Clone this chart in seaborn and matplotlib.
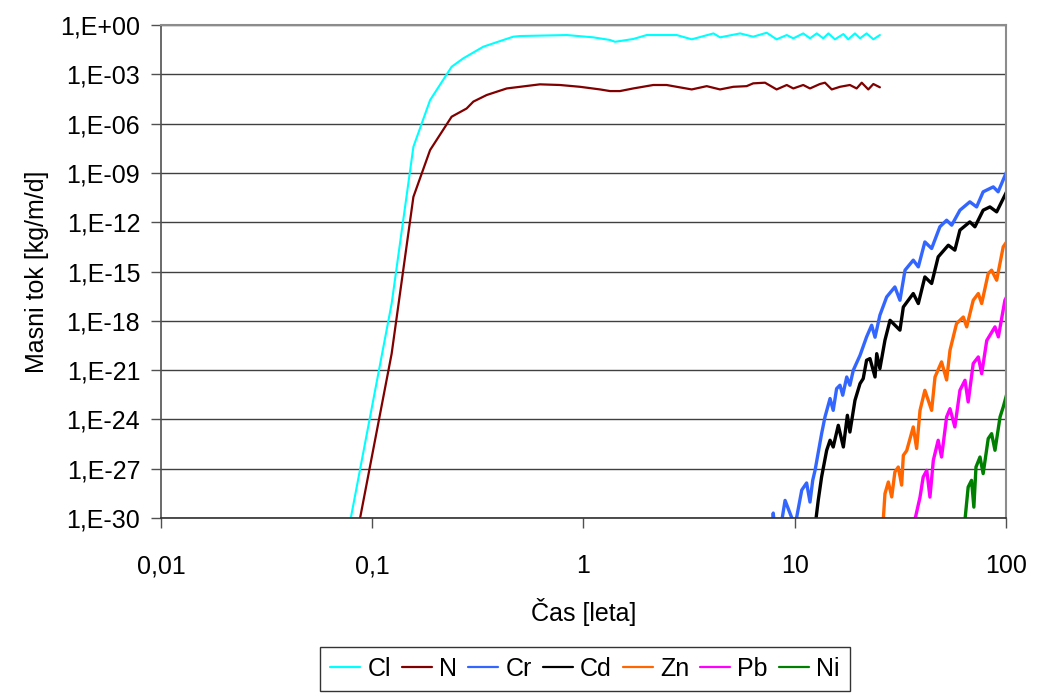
import numpy as np
import pandas as pd
import seaborn as sns
import matplotlib
matplotlib.use("Agg")
import matplotlib.pyplot as plt
from matplotlib.ticker import FixedLocator, NullLocator

sns.set_style("white")
plt.rcParams["font.family"] = ["Liberation Sans", "DejaVu Sans"]
plt.rcParams["text.color"] = "black"
plt.rcParams["axes.labelcolor"] = "black"
plt.rcParams["xtick.color"] = "black"
plt.rcParams["ytick.color"] = "black"

# values, as log10(time [leta]) and log10(flux [kg/m/d])
cl_lt = [-1.102, -0.908, -0.805, -0.726, -0.624, -0.569, -0.474, -0.379, -0.332, -0.300,
         -0.079, 0.047, 0.126, 0.150, 0.236, 0.300, 0.442, 0.513, 0.616, 0.647,
         0.742, 0.804, 0.868, 0.915, 0.963, 0.994, 1.041, 1.073, 1.105, 1.136,
         1.160, 1.191, 1.231, 1.254, 1.286, 1.310, 1.341, 1.373, 1.404]
cl_lq = [-30.04, -16.95, -7.41, -4.57, -2.54, -2.03, -1.32, -0.91, -0.71, -0.67,
         -0.61, -0.75, -0.91, -1.02, -0.85, -0.61, -0.61, -0.87, -0.51, -0.75,
         -0.51, -0.71, -0.47, -0.87, -0.61, -0.81, -0.51, -0.81, -0.51, -0.81,
         -0.51, -0.87, -0.55, -0.87, -0.51, -0.81, -0.51, -0.87, -0.61]

n_lt = [-1.058, -0.908, -0.805, -0.726, -0.624, -0.553, -0.521, -0.458, -0.363, -0.300,
        -0.206, -0.111, -0.016, 0.079, 0.126, 0.173, 0.236, 0.331, 0.394, 0.442,
        0.513, 0.584, 0.647, 0.710, 0.773, 0.804, 0.860, 0.915, 0.963, 0.994,
        1.041, 1.073, 1.120, 1.144, 1.176, 1.215, 1.262, 1.294, 1.318, 1.349,
        1.373, 1.404]
n_lq = [-30.04, -20.0, -10.46, -7.61, -5.58, -5.08, -4.66, -4.26, -3.86, -3.76,
        -3.61, -3.65, -3.76, -3.92, -4.02, -4.02, -3.86, -3.65, -3.65, -3.76,
        -3.92, -3.72, -3.92, -3.76, -3.72, -3.55, -3.51, -3.92, -3.65, -3.86,
        -3.65, -3.86, -3.59, -3.51, -3.92, -3.76, -3.65, -3.86, -3.51, -3.92,
        -3.59, -3.79]

cr_lt = [0.895, 0.899, 0.905, 0.939, 0.955, 0.975, 1.002, 1.034, 1.057, 1.073,
         1.086, 1.097, 1.128, 1.144, 1.168, 1.183, 1.199, 1.215, 1.228, 1.247,
         1.262, 1.278, 1.310, 1.341, 1.365, 1.381, 1.404, 1.436, 1.475, 1.499,
         1.523, 1.562, 1.586, 1.617, 1.649, 1.688, 1.720, 1.744, 1.783, 1.830,
         1.862, 1.893, 1.941, 1.964, 2.004]
cr_lq = [-30.5, -29.7, -30.5, -30.2, -28.93, -29.6, -30.5, -28.3, -27.87, -29.03,
         -27.7, -27.1, -24.87, -23.85, -22.73, -23.45, -22.13, -21.92, -22.53, -21.42,
         -21.92, -21.01, -20.10, -18.98, -18.27, -19.0, -17.66, -16.55, -15.94, -16.75,
         -14.92, -14.31, -14.72, -13.2, -13.6, -12.28, -11.88, -12.18, -11.27, -10.76,
         -11.07, -10.15, -9.85, -10.15, -8.93]

cd_lt = [1.101, 1.112, 1.128, 1.152, 1.168, 1.183, 1.207, 1.231, 1.250, 1.262,
         1.286, 1.310, 1.325, 1.341, 1.357, 1.381, 1.389, 1.404, 1.428, 1.452,
         1.499, 1.515, 1.562, 1.586, 1.617, 1.649, 1.680, 1.728, 1.759, 1.783,
         1.830, 1.854, 1.893, 1.925, 1.957, 2.004]
cd_lq = [-30.1, -28.93, -27.5, -25.88, -25.27, -25.68, -24.36, -25.68, -23.75, -24.77,
         -22.84, -21.82, -21.52, -20.4, -20.3, -21.42, -20.0, -20.91, -19.18, -17.97,
         -18.57, -17.16, -16.34, -16.95, -15.33, -15.73, -14.11, -13.4, -13.7, -12.48,
         -11.98, -12.28, -11.27, -11.07, -11.37, -10.15]

zn_lt = [1.420, 1.428, 1.444, 1.460, 1.475, 1.491, 1.507, 1.515, 1.531, 1.562,
         1.578, 1.594, 1.617, 1.649, 1.665, 1.696, 1.720, 1.736, 1.767, 1.799,
         1.815, 1.846, 1.870, 1.886, 1.917, 1.933, 1.957, 1.988, 2.004]
zn_lq = [-30.1, -28.52, -27.81, -28.72, -27.2, -26.9, -28.0, -26.19, -25.9, -24.46,
         -25.77, -23.45, -22.23, -23.45, -21.42, -20.5, -21.6, -19.79, -18.17, -17.77,
         -18.37, -16.75, -16.34, -16.95, -15.12, -14.92, -15.53, -13.5, -13.2]

pb_lt = [1.570, 1.594, 1.609, 1.626, 1.641, 1.657, 1.680, 1.696, 1.720, 1.736,
         1.759, 1.783, 1.807, 1.822, 1.846, 1.870, 1.886, 1.910, 1.949, 1.965,
         1.996, 2.004]
pb_lq = [-30.1, -28.73, -27.51, -27.1, -28.73, -26.49, -25.27, -26.29, -23.85, -23.35,
         -24.46, -22.23, -21.62, -22.94, -20.6, -20.2, -21.22, -19.2, -18.37, -18.98,
         -16.75, -16.55]

ni_lt = [1.807, 1.822, 1.838, 1.849, 1.859, 1.878, 1.893, 1.917, 1.933, 1.949,
         1.973, 1.988, 2.004]
ni_lq = [-30.1, -28.12, -27.71, -29.34, -26.9, -26.29, -27.3, -25.17, -24.87, -25.88,
         -23.85, -23.25, -22.5]

names = ["Cl", "N", "Cr", "Cd", "Zn", "Pb", "Ni"]
colors = ["#00FFFF", "#800000", "#3366FF", "#000000", "#FF6600", "#FF00FF", "#008000"]
widths = [1.5, 1.6, 2.4, 2.4, 2.4, 2.4, 2.4]
series = [(cl_lt, cl_lq), (n_lt, n_lq), (cr_lt, cr_lq), (cd_lt, cd_lq),
          (zn_lt, zn_lq), (pb_lt, pb_lq), (ni_lt, ni_lq)]

y_ticks = [1e0, 1e-3, 1e-6, 1e-9, 1e-12, 1e-15, 1e-18, 1e-21, 1e-24, 1e-27, 1e-30]
y_labels = ["1,E+00", "1,E-03", "1,E-06", "1,E-09", "1,E-12", "1,E-15",
            "1,E-18", "1,E-21", "1,E-24", "1,E-27", "1,E-30"]
x_ticks = [0.01, 0.1, 1, 10, 100]
x_labels = ["0,01", "0,1", "1", "10", "100"]

fig = plt.figure(figsize=(10.39, 6.95), dpi=100)
ax = fig.add_axes([0.155, 0.2547, 0.813, 0.7093])

for name, (lt, lq), c, w in zip(names, series, colors, widths):
    d = pd.DataFrame({"t": 10 ** np.array(lt), "q": 10 ** np.array(lq)})
    sns.lineplot(data=d, x="t", y="q", color=c, linewidth=w, sort=False,
                 estimator=None, ax=ax)

ax.set_xscale("log")
ax.set_yscale("log")
ax.set_xlim(0.01, 100)
ax.set_ylim(1e-30, 1e0)

ax.yaxis.set_major_locator(FixedLocator(y_ticks))
ax.yaxis.set_minor_locator(NullLocator())
ax.set_yticks(y_ticks)
ax.set_yticklabels(y_labels)
ax.xaxis.set_minor_locator(NullLocator())
ax.set_xticks(x_ticks)
ax.set_xticklabels(x_labels)

ax.grid(axis="y", color="#404040", linewidth=1)
ax.grid(axis="x", visible=False)
ax.set_axisbelow(True)

for side in ["top", "right"]:
    ax.spines[side].set_color("#8c8c8c")
    ax.spines[side].set_linewidth(1.5)
ax.spines["left"].set_color("#505050")
ax.spines["bottom"].set_color("#303030")
ax.spines["left"].set_linewidth(1.2)
ax.spines["bottom"].set_linewidth(1.2)

ax.tick_params(axis="both", labelsize=18, length=7, width=1, color="#505050",
               labelcolor="black", direction="out", left=True, bottom=True)
ax.tick_params(axis="y", pad=8)
ax.tick_params(axis="x", pad=19)

ax.set_xlabel("Čas [leta]", fontsize=18, labelpad=14, color="black")
ax.set_ylabel("Masni tok [kg/m/d]", fontsize=18, labelpad=8, color="black")

handles = [plt.Line2D([], [], color=c, linewidth=1.6) for c in colors]
leg = fig.legend(handles, names, loc="center", bbox_to_anchor=(0.563, 0.038),
                 ncol=7, fontsize=18, frameon=True, fancybox=False,
                 handlelength=1.2, handletextpad=0.28, columnspacing=0.45,
                 borderpad=0.4, edgecolor="black", labelcolor="black")
leg.get_frame().set_linewidth(1)

fig.savefig("out.png", dpi=100)
